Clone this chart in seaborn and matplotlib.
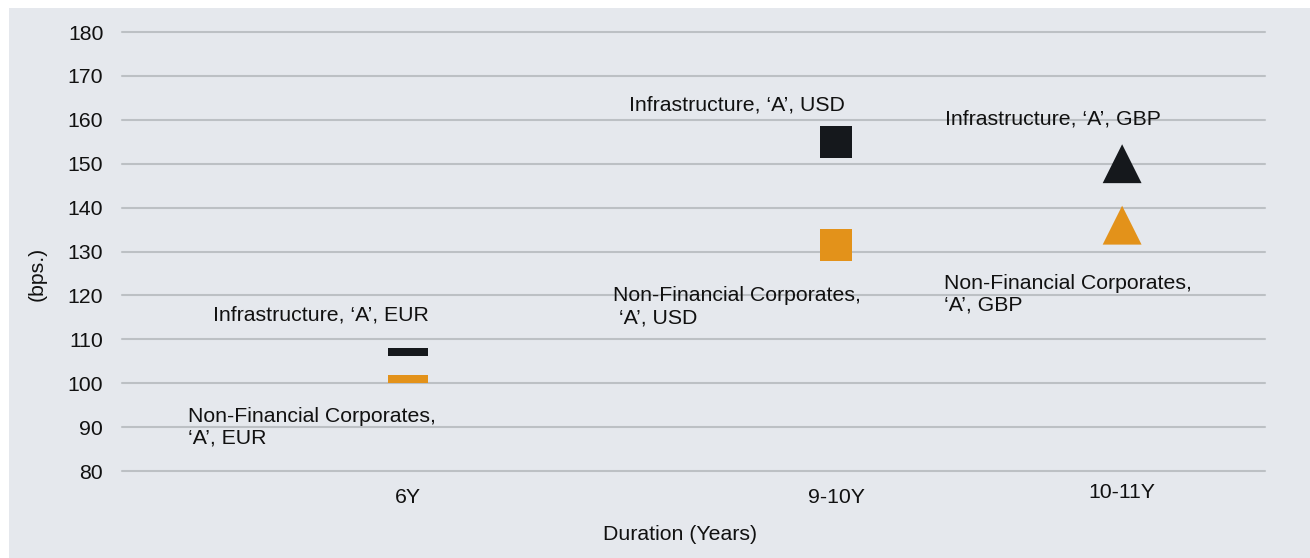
import matplotlib
matplotlib.use("Agg")
import matplotlib.pyplot as plt
from matplotlib.patches import Rectangle
from matplotlib.transforms import ScaledTranslation
import seaborn as sns
import pandas as pd

# Chart values
durations = ["6Y", "9-10Y", "10-11Y"]
duration_pos = [2, 5, 7]          # category slots on a 0-8 axis
infra_spread = [107, 155, 150]
nfc_spread = [101, 131.5, 136]
infra_labels = ["Infrastructure, \u2018A\u2019, EUR",
                "Infrastructure, \u2018A\u2019, USD",
                "Infrastructure, \u2018A\u2019, GBP"]
nfc_labels = ["Non-Financial Corporates,\n\u2018A\u2019, EUR",
              "Non-Financial Corporates,\n \u2018A\u2019, USD",
              "Non-Financial Corporates,\n\u2018A\u2019, GBP"]
y_ticks = list(range(80, 181, 10))

BG = "#e5e8ed"
BLACK = "#15181c"
ORANGE = "#e3921a"
GRID = "#bcc0c4"
TXT = "#111111"
FS = 15.3

df = pd.DataFrame({
    "duration": durations * 2,
    "x": duration_pos * 2,
    "spread": infra_spread + nfc_spread,
    "series": ["Infrastructure"] * 3 + ["Non-Financial Corporates"] * 3,
})

# marker per duration: flat bar, square, triangle
dash = [(-1, -0.2), (1, -0.2), (1, 0.2), (-1, 0.2)]
marker_style = {"6Y": (dash, 29 ** 2), "9-10Y": ("s", 23 ** 2), "10-11Y": ("^", 28 ** 2)}

sns.set_theme(style="white")
plt.rcParams["font.family"] = ["Liberation Sans", "DejaVu Sans"]

fig = plt.figure(figsize=(13.1, 5.58), dpi=100, facecolor="white")
fig.patches.append(Rectangle((9 / 1310, 0), 1, 1 - 8 / 558, transform=fig.transFigure,
                             facecolor=BG, edgecolor="none", zorder=-10))
ax = fig.add_axes([122 / 1310, 1 - 471 / 558, (1265 - 122) / 1310, (471 - 32) / 558])
ax.set_facecolor(BG)

for dur, (mk, sz) in marker_style.items():
    sub = df[df["duration"] == dur]
    sns.scatterplot(data=sub, x="x", y="spread", hue="series",
                    palette={"Infrastructure": BLACK, "Non-Financial Corporates": ORANGE},
                    marker=mk, s=sz, linewidth=0, legend=False, ax=ax, zorder=3)

# text labels near each pair of markers
infra_text_pos = [(0.637, 115.5), (3.55, 163.4), (5.76, 160.2)]
nfc_text_pos = [(0.46, 90), (3.44, 117.4), (5.75, 120.3)]
for lbl, (tx, ty) in zip(infra_labels, infra_text_pos):
    ax.text(tx, ty, lbl, fontsize=FS, color=TXT, va="center", ha="left")
for lbl, (tx, ty) in zip(nfc_labels, nfc_text_pos):
    ax.text(tx, ty, lbl, fontsize=FS, color=TXT, va="center", ha="left",
            linespacing=1.2)

ax.set_xlim(0, 8)
ax.set_ylim(80, 180)
ax.set_yticks(y_ticks)
ax.set_xticks(duration_pos)
ax.set_xticklabels(durations)
ax.yaxis.grid(True, color=GRID, linewidth=1.5)
for gl in ax.get_ygridlines():
    gl.set_clip_on(False)
ax.set_axisbelow(True)
for sp in ax.spines.values():
    sp.set_visible(False)
ax.tick_params(axis="both", length=0, labelsize=FS, colors=TXT)
ax.tick_params(axis="y", pad=13.5)
ax.tick_params(axis="x", pad=12)

# last tick label sits a little higher in the original
last = ax.get_xticklabels()[-1]
last.set_transform(last.get_transform() + ScaledTranslation(0, 5 / 100, fig.dpi_scale_trans))

ax.set_xlabel("Duration (Years)", fontsize=FS, color=TXT)
ax.set_ylabel("(bps.)", fontsize=FS, color=TXT)
ax.xaxis.set_label_coords(0.488, -0.122)
ax.yaxis.set_label_coords(-0.066, 0.449)

fig.savefig("out.png", dpi=100, facecolor=fig.get_facecolor())
